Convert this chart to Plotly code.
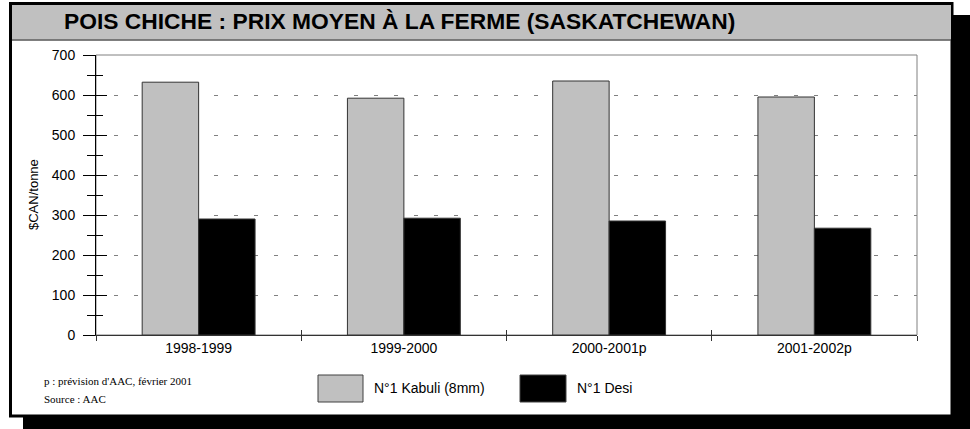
import plotly.graph_objects as go

categories = ["1998-1999", "1999-2000", "2000-2001p", "2001-2002p"]
kabuli = [632, 592, 635, 595]
desi = [290, 292, 285, 267]
series_names = ["N°1 Kabuli (8mm)", "N°1 Desi"]
title_text = "POIS CHICHE : PRIX MOYEN À LA FERME (SASKATCHEWAN)"
y_title = "$CAN/tonne"
notes = ["p : prévision d'AAC, février 2001", "Source : AAC"]

W, H = 970, 429
L, R, T, B = 96, 53, 55, 94
PW, PH = W - L - R, H - T - B


def px(x):
    return (x - L) / PW


def py(y):
    return (H - B - y) / PH


SANS = "Liberation Sans, Arial, sans-serif"
SERIF = "Liberation Serif, Times New Roman, serif"

fig = go.Figure()
fig.add_trace(go.Bar(x=categories, y=kabuli, name=series_names[0],
                     marker=dict(color="#c0c0c0", line=dict(color="#333333", width=1)),
                     showlegend=False, hoverinfo="x+y"))
fig.add_trace(go.Bar(x=categories, y=desi, name=series_names[1],
                     marker=dict(color="#000000", line=dict(color="#333333", width=1)),
                     showlegend=False, hoverinfo="x+y"))
# invisible helper trace for overlay axes (inside ticks)
fig.add_trace(go.Scatter(x=categories, y=[None] * len(categories), xaxis="x2", yaxis="y2",
                         mode="markers", showlegend=False, hoverinfo="skip"))

shapes = [
    # drop shadow
    dict(type="rect", xref="paper", yref="paper", x0=px(23), x1=px(975), y0=py(15), y1=py(435),
         fillcolor="black", line=dict(width=0), layer="below"),
    # white frame
    dict(type="rect", xref="paper", yref="paper", x0=px(10.5), x1=px(952), y0=py(3.5), y1=py(416),
         fillcolor="white", line=dict(color="black", width=3), layer="below"),
    # title band
    dict(type="rect", xref="paper", yref="paper", x0=px(12), x1=px(951), y0=py(5), y1=py(39.5),
         fillcolor="#c0c0c0", line=dict(width=0), layer="below"),
    dict(type="line", xref="paper", yref="paper", x0=px(12), x1=px(951), y0=py(40), y1=py(40),
         line=dict(color="#555555", width=1.5), layer="below"),
    # plot border
    dict(type="rect", xref="paper", yref="paper", x0=0, x1=1, y0=0, y1=1,
         line=dict(color="#808080", width=1), layer="below"),
    # legend boxes
    dict(type="rect", xref="paper", yref="paper", x0=px(318), x1=px(363), y0=py(375), y1=py(402),
         fillcolor="#c0c0c0", line=dict(color="#404040", width=1)),
    dict(type="rect", xref="paper", yref="paper", x0=px(520), x1=px(566), y0=py(375), y1=py(402),
         fillcolor="#000000", line=dict(color="#404040", width=1)),
]

annotations = [
    dict(text="<b>" + title_text + "</b>", xref="paper", yref="paper", x=px(62), y=py(21),
         xanchor="left", yanchor="middle", showarrow=False,
         font=dict(family=SANS, size=22.8, color="black")),
    dict(text=y_title, xref="paper", yref="paper", x=px(33), y=py(195), textangle=-90,
         xanchor="center", yanchor="middle", showarrow=False,
         font=dict(family=SANS, size=13, color="black")),
    dict(text=series_names[0], xref="paper", yref="paper", x=px(372), y=py(388),
         xanchor="left", yanchor="middle", showarrow=False,
         font=dict(family=SANS, size=14, color="black")),
    dict(text=series_names[1], xref="paper", yref="paper", x=px(575), y=py(388),
         xanchor="left", yanchor="middle", showarrow=False,
         font=dict(family=SANS, size=14, color="black")),
    dict(text=notes[0], xref="paper", yref="paper", x=px(42), y=py(381),
         xanchor="left", yanchor="middle", showarrow=False,
         font=dict(family=SERIF, size=11, color="black")),
    dict(text=notes[1], xref="paper", yref="paper", x=px(42), y=py(399),
         xanchor="left", yanchor="middle", showarrow=False,
         font=dict(family=SERIF, size=11, color="black")),
]

fig.update_layout(
    width=W, height=H,
    margin=dict(l=L, r=R, t=T, b=B, pad=0),
    paper_bgcolor="white", plot_bgcolor="rgba(0,0,0,0)",
    barmode="group", bargap=0.45, bargroupgap=0,
    shapes=shapes, annotations=annotations,
    font=dict(family=SANS, size=14, color="black"),
    xaxis=dict(type="category", range=[-0.5, 3.5], tickson="boundaries",
               ticks="outside", ticklen=5, tickcolor="#333333", tickwidth=1,
               showline=True, linecolor="#333333", linewidth=1, showgrid=False,
               tickfont=dict(family=SANS, size=14, color="black"), fixedrange=True),
    yaxis=dict(range=[0, 700], dtick=100, ticks="outside", ticklen=12, tickcolor="black",
               showline=True, linecolor="black", linewidth=1, zeroline=False,
               showgrid=True, gridcolor="#808080", gridwidth=1, griddash="2px,16px,2px,0px",
               minor=dict(dtick=50, ticks="outside", ticklen=8, tickcolor="black", showgrid=False),
               ticklabelstandoff=5,
               tickfont=dict(family=SANS, size=14, color="black"), fixedrange=True),
    xaxis2=dict(type="category", overlaying="x", anchor="y2", range=[-0.5, 3.5],
                tickson="boundaries", ticks="inside", ticklen=5, tickcolor="#333333",
                showticklabels=False, showline=False, showgrid=False, fixedrange=True),
    yaxis2=dict(overlaying="y", anchor="x2", side="left", range=[0, 700], dtick=100,
                ticks="inside", ticklen=11, tickcolor="black", showticklabels=False,
                showline=False, showgrid=False, zeroline=False,
                minor=dict(dtick=50, ticks="inside", ticklen=7, tickcolor="black", showgrid=False),
                fixedrange=True),
)

fig.write_html("out.html", config={"displayModeBar": False},
               post_script="document.body.style.margin='0';document.body.style.overflow='hidden';")
